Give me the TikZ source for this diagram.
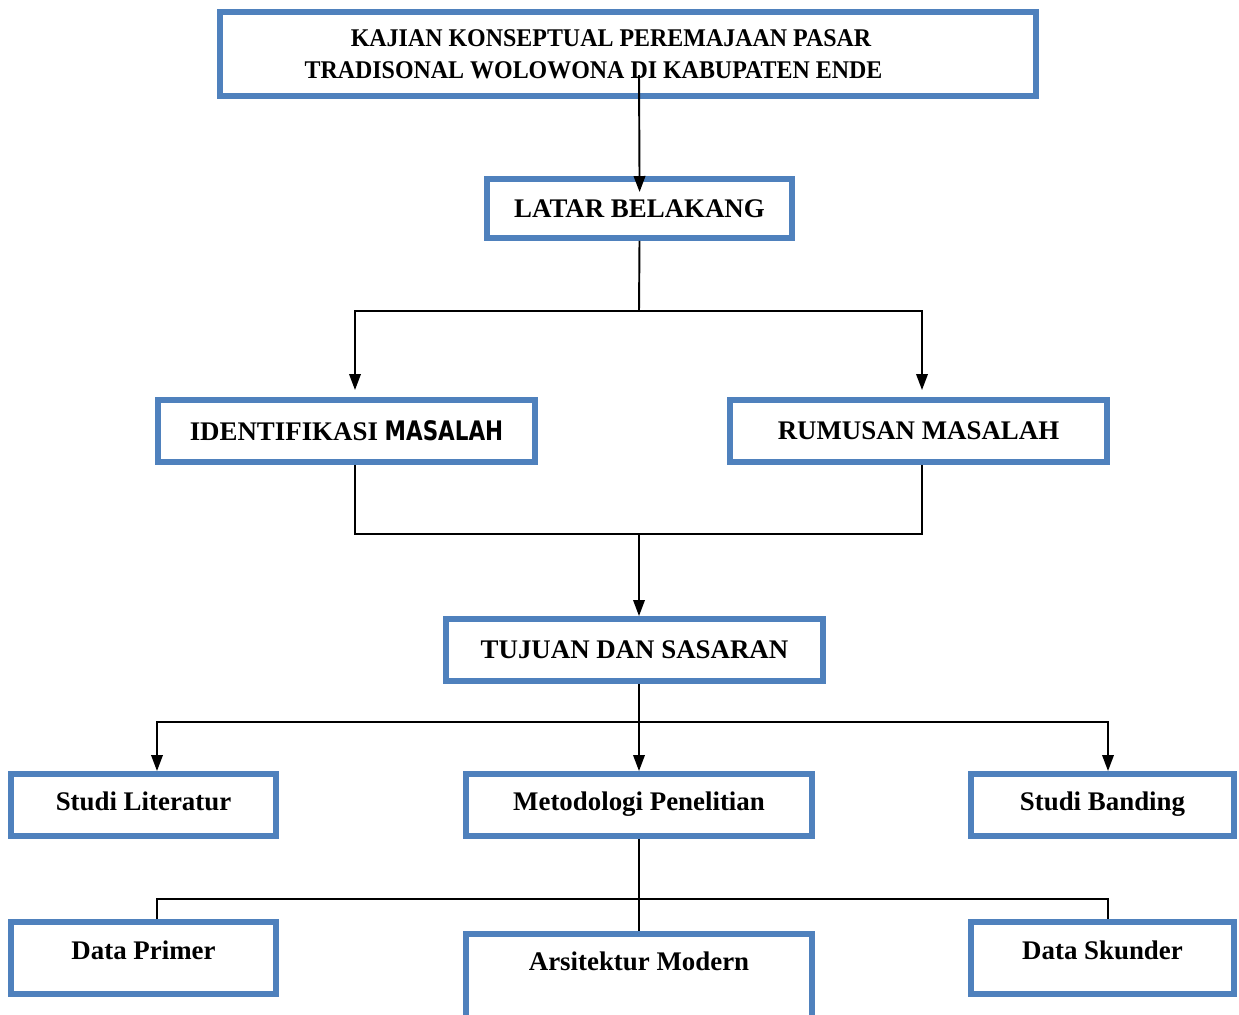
\documentclass[tikz,border=0pt]{standalone}
\usepackage{fontspec}
\setmainfont{Liberation Serif}
\newfontfamily\judulfont[FakeStretch=0.94]{Liberation Serif}
\newfontfamily\tahoma[FakeStretch=0.8]{DejaVu Sans}
\usetikzlibrary{arrows.meta}

\definecolor{birukotak}{RGB}{79,129,189}

\begin{document}
\begin{tikzpicture}[x=0.02cm, y=-0.02cm,
  kotak/.style={draw=birukotak, line width=3.4pt, inner sep=0pt, align=center,
    font=\fontsize{15.3}{18}\selectfont\bfseries},
  garis/.style={line width=1.1pt},
  panah/.style={garis, -{Triangle[length=0.32cm,width=0.23cm]}}]
  \clip (0,0) rectangle (1239,1014);
  % kotak-kotak
  \node[kotak, minimum width=16.32cm, minimum height=1.68cm,
    font=\fontsize{14.5}{18}\selectfont\judulfont\bfseries] (judul) at (628,54)
    {\hspace*{-0.68cm}KAJIAN KONSEPTUAL PEREMAJAAN PASAR\\\hspace*{-1.38cm}TRADISONAL WOLOWONA DI KABUPATEN ENDE};
  \node[kotak, minimum width=6.1cm, minimum height=1.18cm] (latar) at (639.5,208.5) {LATAR BELAKANG};
  \node[kotak, minimum width=7.54cm, minimum height=1.24cm] (identifikasi) at (346.5,431)
    {IDENTIFIKASI {\tahoma\bfseries MASALAH}};
  \node[kotak, minimum width=7.54cm, minimum height=1.24cm] (rumusan) at (918.5,431) {RUMUSAN MASALAH};
  \node[kotak, minimum width=7.54cm, minimum height=1.24cm] (tujuan) at (634.5,650) {TUJUAN DAN SASARAN};
  \node[kotak, minimum width=5.3cm, minimum height=1.24cm, text depth=0.17cm] (literatur) at (143.5,805) {Studi Literatur};
  \node[kotak, minimum width=6.92cm, minimum height=1.24cm, text depth=0.17cm] (metodologi) at (639,805) {Metodologi Penelitian};
  \node[kotak, minimum width=5.26cm, minimum height=1.24cm, text depth=0.17cm] (banding) at (1102.5,805) {Studi Banding};
  \node[kotak, minimum width=5.3cm, minimum height=1.44cm, text depth=0.32cm] (primer) at (143.5,958) {Data Primer};
  \node[kotak, minimum width=6.92cm, minimum height=1.72cm, text depth=0.64cm] (arsitektur) at (639,977) {Arsitektur Modern};
  \node[kotak, minimum width=5.26cm, minimum height=1.44cm, text depth=0.32cm] (skunder) at (1102.5,958) {Data Skunder};
  % titik cabang
  \coordinate (awal) at (639,75);
  \coordinate (cabang1) at (639,311);
  \coordinate (gabung) at (639,534);
  \coordinate (cabang2) at (639,722);
  \coordinate (cabang3) at (639,899);
  % garis penghubung
  \draw[panah, shorten >=-0.32cm] (awal) -- (latar.north);
  \draw[garis] (latar.south) -- (cabang1);
  \draw[panah, shorten >=0.14cm] (cabang1) -| ([xshift=0.17cm]identifikasi.north);
  \draw[panah, shorten >=0.14cm] (cabang1) -| ([xshift=0.07cm]rumusan.north);
  \draw[garis] ([xshift=0.17cm]identifikasi.south) |- (gabung) -| ([xshift=0.07cm]rumusan.south);
  \draw[panah] (gabung) -- (tujuan.north -| gabung);
  \draw[garis] (tujuan.south -| cabang2) -- (cabang2);
  \draw[panah] (cabang2) -| ([xshift=0.27cm]literatur.north);
  \draw[panah] (cabang2) -- (metodologi.north);
  \draw[panah] (cabang2) -| ([xshift=0.11cm]banding.north);
  \draw[garis] (metodologi.south) -- (arsitektur.north);
  \draw[garis] ([xshift=0.27cm]primer.north) |- (cabang3) -| ([xshift=0.11cm]skunder.north);
\end{tikzpicture}
\end{document}
